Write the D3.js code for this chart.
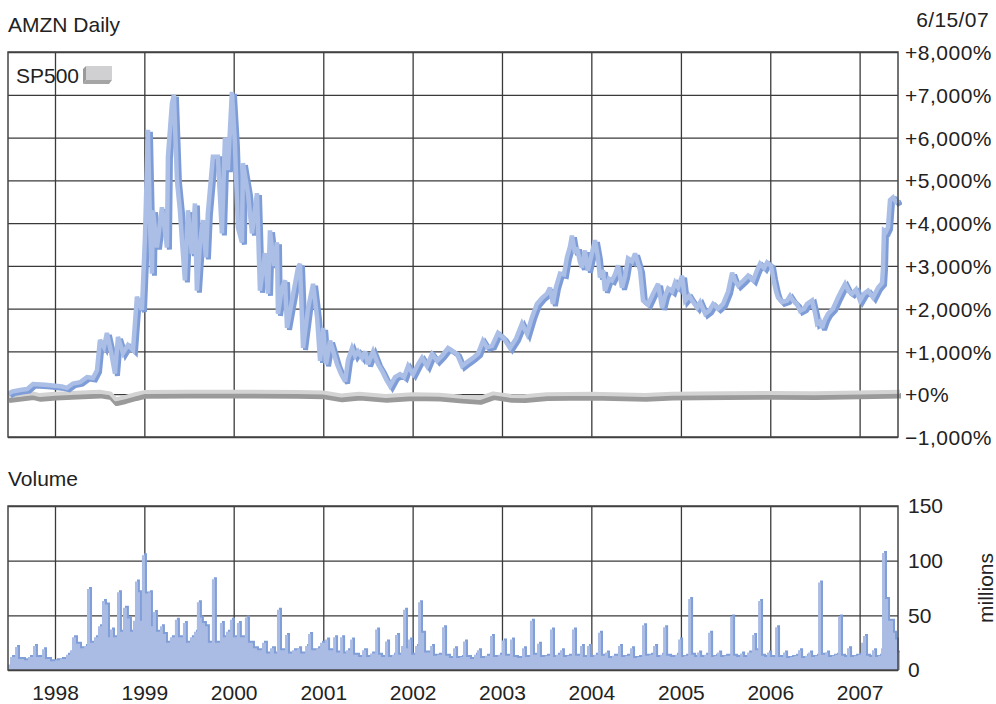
<!DOCTYPE html>
<html><head><meta charset="utf-8">
<script src="https://cdn.jsdelivr.net/npm/d3@7"></script>
<style>
body{margin:0;background:#fff;}
svg{display:block;font-family:"Liberation Sans",Arial,Helvetica,sans-serif;}
</style>
</head><body>
<svg id="c" width="996" height="704"></svg>
<script>
// ---------- DATA (dates as decimal years) ----------
const priceDates = [
1997.474,1997.519,1997.609,1997.687,1997.754,1997.888,
1998.000,1998.078,1998.134,1998.201,1998.280,1998.358,1998.425,1998.470,1998.503,1998.548,1998.581,1998.626,1998.671,1998.705,1998.761,1998.816,1998.873,1998.917,1998.973,
1999.007,1999.040,1999.063,1999.085,1999.096,1999.141,1999.197,1999.253,1999.264,1999.309,1999.331,1999.365,1999.398,1999.421,1999.454,1999.488,1999.532,1999.566,1999.588,1999.622,1999.655,1999.689,1999.711,1999.767,1999.823,1999.868,1999.902,1999.935,1999.980,
2000.013,2000.047,2000.092,2000.103,2000.159,2000.204,2000.260,2000.293,2000.349,2000.383,2000.405,2000.450,2000.483,2000.494,2000.539,2000.573,2000.595,2000.651,2000.718,2000.740,2000.774,2000.830,2000.886,2000.931,2000.964,2000.998,
2001.031,2001.076,2001.154,2001.199,2001.244,2001.277,2001.322,2001.356,2001.389,2001.434,2001.468,2001.501,2001.557,2001.613,2001.658,2001.702,2001.747,2001.803,2001.859,2001.904,2001.949,
2002.004,2002.060,2002.105,2002.161,2002.217,2002.273,2002.329,2002.396,2002.452,2002.497,2002.553,2002.609,2002.676,2002.732,2002.787,2002.832,2002.888,2002.955,
2003.022,2003.089,2003.157,2003.224,2003.280,2003.336,2003.391,2003.447,2003.503,2003.537,2003.570,2003.604,2003.649,2003.694,2003.727,2003.761,2003.783,2003.817,2003.839,2003.872,2003.895,2003.928,2003.962,
2004.007,2004.040,2004.074,2004.096,2004.130,2004.152,2004.197,2004.230,2004.264,2004.298,2004.342,2004.376,2004.409,2004.454,2004.488,2004.544,2004.577,2004.633,2004.689,2004.745,2004.790,2004.823,2004.857,2004.902,2004.935,2004.969,
2005.013,2005.047,2005.092,2005.125,2005.181,2005.215,2005.271,2005.315,2005.360,2005.416,2005.472,2005.528,2005.573,2005.606,2005.640,2005.696,2005.752,2005.808,2005.852,2005.886,2005.931,2005.964,
2006.009,2006.031,2006.065,2006.087,2006.132,2006.188,2006.221,2006.255,2006.300,2006.333,2006.378,2006.412,2006.468,2006.501,2006.523,2006.557,2006.579,2006.613,2006.647,2006.702,2006.758,2006.803,2006.837,2006.881,2006.915,2006.960,
2007.004,2007.049,2007.094,2007.150,2007.206,2007.251,2007.262,2007.273,2007.295,2007.318,2007.340,2007.374,2007.407,2007.441
];
const priceValues = [
0,60,100,120,240,220,
200,180,150,250,280,400,380,560,1270,1100,1430,1000,480,1340,960,1150,1030,2280,1970,
3680,6180,4000,2820,4300,3430,4370,3430,5550,6800,7000,5000,4300,3600,2660,4300,3280,4460,2420,3500,4070,3200,4230,5550,5550,3760,6000,5240,7070,
5880,3900,3550,5400,4700,3760,4700,2420,3300,2350,3830,3000,3550,1880,2500,2660,1550,2200,2960,3050,1080,2000,2580,1790,780,1550,
700,1250,700,470,300,800,1080,900,1000,850,1000,700,1000,700,540,350,190,400,470,400,660,
470,700,850,660,940,780,900,1080,1000,940,660,750,850,950,1250,1100,1130,1430,
1300,1080,1300,1650,1410,1800,2110,2250,2350,2490,2110,2500,2820,2800,3200,3450,3710,3300,3430,3100,2960,3360,2890,
3300,3600,3200,2730,2900,2420,2700,2660,2800,3010,2490,2750,3170,3100,3290,2890,2190,2100,2350,2580,2020,2300,2470,2400,2610,2500,
2770,2190,2300,2190,2020,2150,1880,1950,2110,2000,2110,2400,2840,2650,2540,2650,2770,2660,2900,3050,2950,3080,
3000,2730,2400,2260,2150,2190,2300,2190,2100,1950,2000,2110,2190,1900,1650,1700,1550,1750,1880,2000,2260,2450,2580,2400,2350,2450,
2190,2350,2420,2260,2490,2600,2960,3830,3800,3900,4540,4600,4500,4540
];
const spDates = [1997.474,1997.75,1997.83,1998.0,1998.3,1998.5,1998.62,1998.68,1998.78,1998.9,1999.0,1999.5,2000.0,2000.7,2001.0,2001.2,2001.4,2001.7,2002.0,2002.3,2002.55,2002.75,2002.9,2003.1,2003.25,2003.5,2004.0,2004.6,2004.9,2005.5,2006.0,2006.5,2007.0,2007.452];
const spValues = [-50,20,-20,10,40,60,20,-120,-70,0,50,60,60,50,40,-30,10,-40,0,-10,-60,-90,20,-40,-50,0,10,-20,10,20,30,20,40,60];

const volDates = [
1997.474,1997.497,1997.553,1997.586,1997.653,1997.698,1997.754,1997.787,1997.855,1997.888,1997.944,
1998.000,1998.056,1998.123,1998.168,1998.190,1998.235,1998.280,1998.324,1998.358,1998.392,1998.436,1998.481,1998.526,1998.559,1998.593,1998.615,1998.649,1998.694,1998.727,1998.761,1998.805,1998.839,1998.873,1998.895,1998.928,1998.951,1998.973,
1999.007,1999.040,1999.074,1999.096,1999.130,1999.175,1999.208,1999.242,1999.286,1999.342,1999.376,1999.432,1999.465,1999.510,1999.555,1999.588,1999.622,1999.644,1999.678,1999.711,1999.756,1999.790,1999.846,1999.879,1999.913,1999.958,1999.991,
2000.036,2000.069,2000.125,2000.159,2000.215,2000.260,2000.316,2000.360,2000.405,2000.450,2000.483,2000.517,2000.573,2000.606,2000.651,2000.707,2000.741,2000.797,2000.830,2000.864,2000.920,2000.964,
2001.020,2001.054,2001.110,2001.143,2001.188,2001.222,2001.255,2001.300,2001.333,2001.389,2001.434,2001.479,2001.524,2001.580,2001.613,2001.647,2001.691,2001.725,2001.770,2001.803,2001.837,2001.870,2001.893,2001.926,2001.949,2001.982,
2002.027,2002.061,2002.094,2002.128,2002.195,2002.228,2002.273,2002.329,2002.363,2002.407,2002.452,2002.486,2002.530,2002.564,2002.597,2002.642,2002.687,2002.720,2002.754,2002.810,2002.866,2002.899,2002.955,
2003.000,2003.034,2003.090,2003.123,2003.168,2003.224,2003.257,2003.313,2003.347,2003.392,2003.425,2003.481,2003.537,2003.571,2003.604,2003.649,2003.682,2003.727,2003.783,2003.817,2003.873,2003.906,2003.951,2003.985,
2004.029,2004.074,2004.108,2004.152,2004.186,2004.231,2004.298,2004.331,2004.376,2004.432,2004.466,2004.510,2004.566,2004.600,2004.645,2004.689,2004.723,2004.768,2004.801,2004.835,2004.879,2004.935,2004.969,
2005.002,2005.036,2005.081,2005.114,2005.148,2005.181,2005.215,2005.260,2005.304,2005.338,2005.372,2005.405,2005.439,2005.483,2005.551,2005.584,2005.618,2005.662,2005.696,2005.741,2005.797,2005.830,2005.864,2005.897,2005.931,2005.964,2005.998,
2006.054,2006.087,2006.143,2006.177,2006.222,2006.267,2006.311,2006.345,2006.390,2006.423,2006.457,2006.501,2006.535,2006.568,2006.613,2006.647,2006.692,2006.725,2006.759,2006.792,2006.826,2006.859,2006.893,2006.938,2006.983,
2007.016,2007.038,2007.072,2007.106,2007.139,2007.173,2007.206,2007.240,2007.251,2007.284,2007.318,2007.340,2007.374,2007.396,2007.419,2007.452
];
const volValues = [
5,12,21,10,9,12,22,12,19,10,8,
9,10,14,18,30,24,20,22,74,25,30,40,63,60,30,37,30,71,35,57,47,35,45,81,71,45,105,
70,71,40,53,35,40,33,25,30,46,30,43,25,30,35,62,48,43,40,25,83,25,43,30,35,46,30,
43,30,48,25,20,18,25,15,20,15,55,18,32,15,18,20,15,22,33,18,20,25,
28,18,30,16,30,15,18,28,14,12,18,12,15,37,14,12,26,12,14,32,14,22,55,20,28,14,
22,62,34,16,22,13,14,39,13,11,20,11,12,26,12,10,14,18,11,13,31,12,14,
27,13,28,12,11,20,12,45,14,24,12,13,37,12,14,18,12,13,37,13,22,12,22,12,
14,34,13,16,11,13,22,12,13,20,11,12,41,13,14,22,12,14,39,13,12,14,28,
12,13,65,14,12,16,12,14,34,12,13,16,12,13,49,13,12,15,12,16,32,18,63,13,12,16,12,
39,12,16,11,12,13,18,11,13,16,12,13,80,14,16,12,13,14,49,13,12,20,12,13,14,
25,31,13,12,18,12,13,20,107,65,45,45,34,28,16,16
];
const yearTicks = [1998,1999,2000,2001,2002,2003,2004,2005,2006,2007];
const pctTicks = [8000,7000,6000,5000,4000,3000,2000,1000,0,-1000];
const volTicks = [0,50,100,150];
const startYear = 1997.474, endYear = 2007.452;

// ---------- helpers ----------
function toDate(y){
  const yr = Math.floor(y);
  const a = new Date(yr,0,1), b = new Date(yr+1,0,1);
  return new Date(+a + (y-yr)*(b-a));
}
const price = priceDates.map((d,i)=>({date:toDate(d), v:priceValues[i]}));
const sp = spDates.map((d,i)=>({date:toDate(d), v:spValues[i]}));
const vol = volDates.map((d,i)=>({date:toDate(d), v:volValues[i]}));

const svg = d3.select("#c");
const L = 8, R = 898;
const T1 = 52, B1 = 437;   // price panel
const T2 = 506, B2 = 670;  // volume panel

const x = d3.scaleTime().domain([toDate(startYear), toDate(endYear)]).range([L, 900]);
const y = d3.scaleLinear().domain([-1000, 8000]).range([B1, T1]);
const yv = d3.scaleLinear().domain([0, 150]).range([B2, T2]);

const txt = "#222", grid = "#3a3a3a";

const defs = svg.append("defs");
defs.append("clipPath").attr("id","clip1").append("rect").attr("x",L).attr("y",T1-10).attr("width",902-L).attr("height",B1-T1+10);
defs.append("clipPath").attr("id","clip2").append("rect").attr("x",L).attr("y",T2).attr("width",900-L).attr("height",B2-T2);

// ---------- titles ----------
svg.append("text").attr("x",8).attr("y",32).attr("font-size",21).attr("fill",txt).text("AMZN Daily");
svg.append("text").attr("x",989).attr("y",27).attr("font-size",21).attr("letter-spacing","0.4px").attr("fill",txt).attr("text-anchor","end").text("6/15/07");
svg.append("text").attr("x",8).attr("y",486).attr("font-size",21).attr("fill",txt).text("Volume");

// ---------- price panel grid ----------
const pctFmt = v => v > 0 ? "+" + d3.format(",")(v) + "%" : (v === 0 ? "+0%" : "\u2212" + d3.format(",")(-v) + "%");
const gY = svg.append("g").attr("transform",`translate(${R},0)`)
  .call(d3.axisRight(y).tickValues(pctTicks).tickSize(-(R-L)).tickPadding(7).tickFormat(pctFmt));
gY.select(".domain").remove();
gY.selectAll(".tick line").attr("stroke",grid).attr("stroke-width",1.3);
gY.selectAll(".tick text").attr("font-size",21).attr("fill",txt).attr("font-family",null).attr("letter-spacing","0.5px").attr("dy","0.36em");

const gX1 = svg.append("g").attr("transform",`translate(0,${B1})`)
  .call(d3.axisBottom(x).tickValues(yearTicks.map(v=>toDate(v))).tickSize(-(B1-T1)).tickFormat(""));
gX1.select(".domain").remove();
gX1.selectAll(".tick line").attr("stroke",grid).attr("stroke-width",1.3);

// ---------- volume panel grid ----------
const gV = svg.append("g").attr("transform",`translate(${R},0)`)
  .call(d3.axisRight(yv).tickValues(volTicks).tickSize(-(R-L)).tickPadding(10).tickFormat(d3.format("d")));
gV.select(".domain").remove();
gV.selectAll(".tick line").attr("stroke",grid).attr("stroke-width",1.3);
gV.selectAll(".tick text").attr("font-size",21).attr("fill",txt).attr("font-family",null);

const gX2 = svg.append("g").attr("transform",`translate(0,${B2})`)
  .call(d3.axisBottom(x).tickValues(yearTicks.map(v=>toDate(v))).tickSize(-(B2-T2)).tickPadding(15).tickFormat(d3.timeFormat("%Y")));
gX2.select(".domain").remove();
gX2.selectAll(".tick line").attr("stroke",grid).attr("stroke-width",1.3);
gX2.selectAll(".tick text").attr("font-size",21).attr("fill",txt).attr("font-family",null);

svg.append("text").attr("transform","translate(993,588) rotate(-90)").attr("text-anchor","middle")
  .attr("font-size",21).attr("fill",txt).text("millions");

// ---------- series: price ----------
const p1 = svg.append("g").attr("clip-path","url(#clip1)");
const spLine = d3.line().x(d=>x(d.date)).y(d=>y(d.v));
p1.append("path").datum(sp).attr("d",spLine).attr("fill","none").attr("stroke","#9a9a9a")
  .attr("stroke-width",5.5).attr("stroke-linejoin","round").attr("transform","translate(1,4)");
p1.append("path").datum(sp).attr("d",spLine).attr("fill","none").attr("stroke","#d3d3d3")
  .attr("stroke-width",4).attr("stroke-linejoin","round");

const pLine = d3.line().x(d=>x(d.date)).y(d=>y(d.v));
p1.append("path").datum(price).attr("d",pLine).attr("fill","none").attr("stroke","#7e9dd8")
  .attr("stroke-width",5).attr("stroke-linejoin","miter").attr("stroke-miterlimit",3).attr("transform","translate(2.5,2)");
p1.append("path").datum(price).attr("d",pLine).attr("fill","none").attr("stroke","#aabee6")
  .attr("stroke-width",4.5).attr("stroke-linejoin","miter").attr("stroke-miterlimit",3);

// ---------- series: volume ----------
const p2 = svg.append("g").attr("clip-path","url(#clip2)");
const vArea = d3.area().curve(d3.curveStepAfter).x(d=>x(d.date)).y0(yv(0)).y1(d=>yv(d.v));
p2.append("path").datum(vol).attr("d",vArea).attr("fill","#809ed8").attr("transform","translate(2,-2)");
p2.append("path").datum(vol).attr("d",vArea).attr("fill","#aabce3");

// ---------- panel borders ----------
[[T1,B1],[T2,B2]].forEach(([t,b])=>{
  svg.append("rect").attr("x",L).attr("y",t).attr("width",R-L).attr("height",b-t)
    .attr("fill","none").attr("stroke","#444").attr("stroke-width",1.5);
});

// ---------- legend ----------
const lg = svg.append("g");
lg.append("text").attr("x",16).attr("y",83).attr("font-size",21).attr("fill",txt).text("SP500");
lg.append("polygon").attr("points","83,69 86,66 86,80 83,84").attr("fill","#9a9a9a");
lg.append("polygon").attr("points","83,84 86,80 112,80 109,84").attr("fill","#a5a5a5");
lg.append("rect").attr("x",86).attr("y",66).attr("width",26).attr("height",14).attr("fill","#d0d0d2");
</script>
</body></html>
